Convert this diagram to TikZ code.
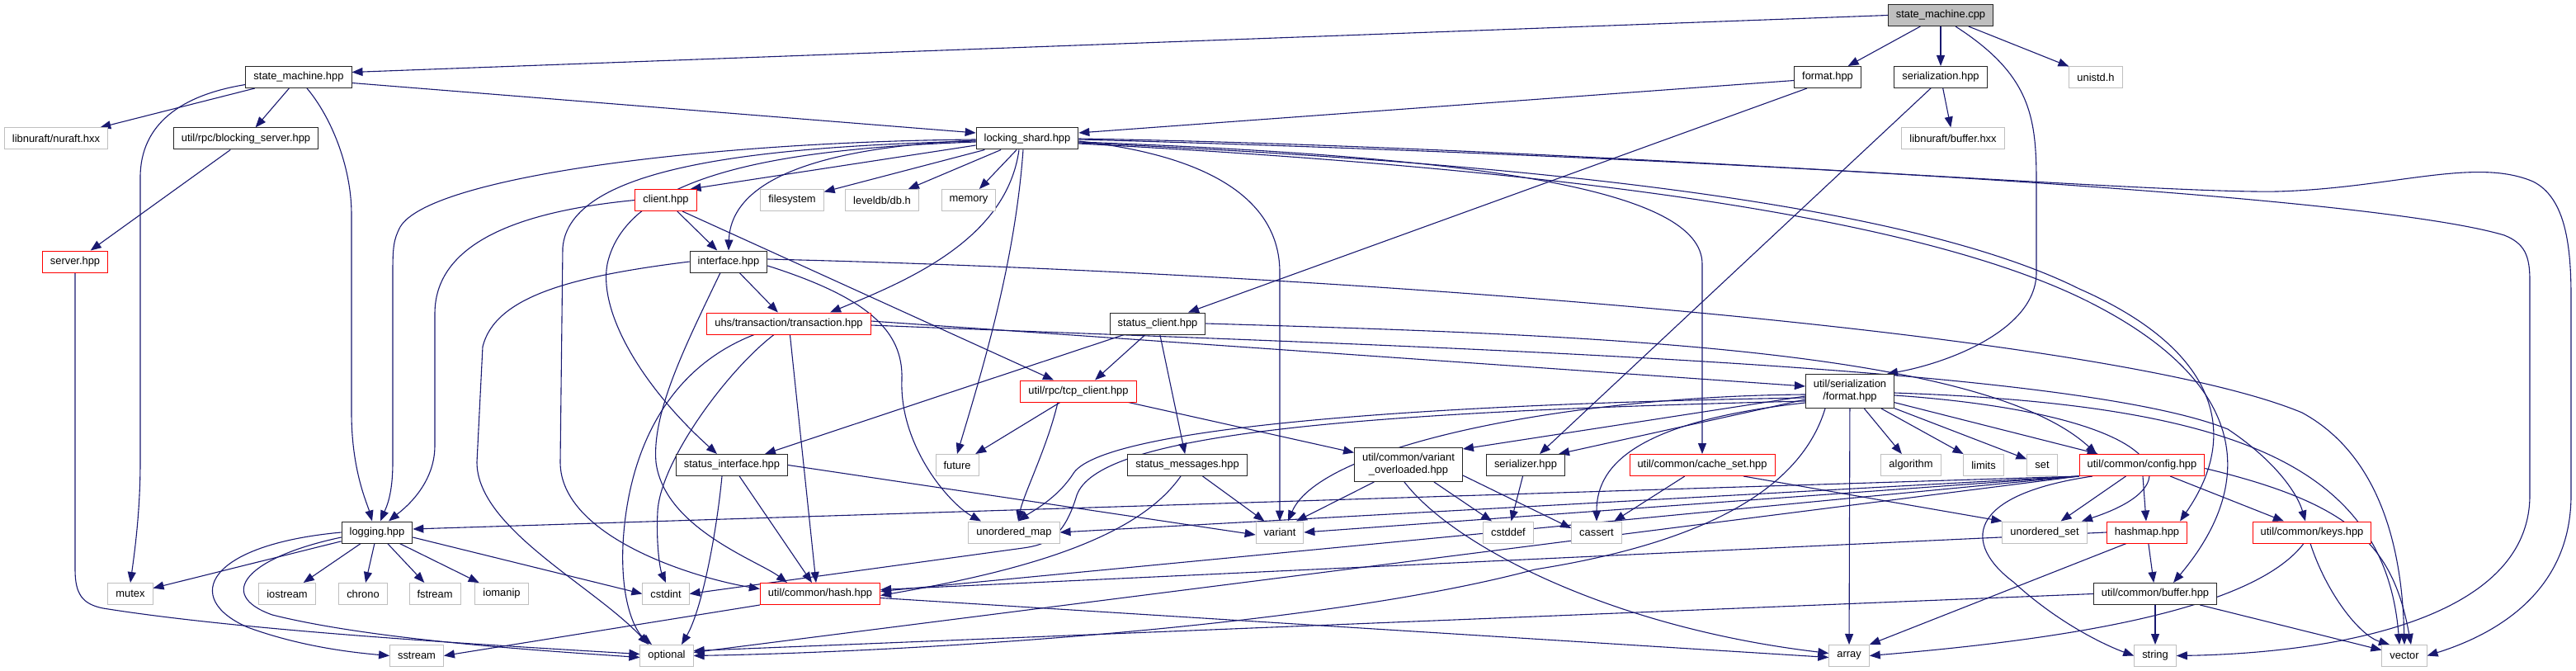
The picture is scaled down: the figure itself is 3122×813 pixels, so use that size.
\documentclass[tikz,border=0pt]{standalone}
\usepackage{fontspec}
\setmainfont{Liberation Sans}
\usetikzlibrary{arrows.meta}
\definecolor{edgecol}{HTML}{191970}
\definecolor{graybd}{HTML}{BFBFBF}
\definecolor{cppfill}{HTML}{BFBFBF}
\newcommand\gnf{\fontsize{12.9}{14.7}\selectfont}
\pgfdeclarelayer{bg}
\pgfsetlayers{bg,main}
\begin{document}
\begin{tikzpicture}[x=1pt,y=-1pt,
 nd/.style={rectangle, inner xsep=9.5pt, inner ysep=0pt, minimum height=26pt, font=\gnf, line width=1pt, fill=white},
 blk/.style={nd, draw=black!85},
 gry/.style={nd, draw=graybd},
 rnd/.style={nd, draw=red},
 two/.style={minimum height=41pt, align=center},
 e/.style={draw=edgecol, line width=1.1pt, -{Triangle[length=13pt,width=10pt]}}
]
\useasboundingbox (0,0) rectangle (3122,813);
% rank 0
\node[blk, fill=cppfill] (cpp) at (2352,18.5) {state\_machine.cpp};
% rank 1
\node[blk] (smh) at (362,93.5) {state\_machine.hpp};
\node[blk] (fmt) at (2215,93.5) {format.hpp};
\node[blk] (ser) at (2352,93.5) {serialization.hpp};
\node[gry] (unistd) at (2540,93.5) {unistd.h};
% rank 2
\node[gry] (nuraft) at (68,168) {libnuraft/nuraft.hxx};
\node[blk] (blocking) at (298,168) {util/rpc/blocking\_server.hpp};
\node[blk] (ls) at (1245,168) {locking\_shard.hpp};
\node[gry] (bufhxx) at (2367,168) {libnuraft/buffer.hxx};
% rank 3
\node[rnd] (client) at (807,242.5) {client.hpp};
\node[gry] (filesystem) at (960,242.5) {filesystem};
\node[gry] (leveldb) at (1069,242.5) {leveldb/db.h};
\node[gry] (memory) at (1174,242.5) {memory};
% rank 4
\node[rnd] (server) at (91,317) {server.hpp};
\node[blk] (interface) at (883,317) {interface.hpp};
% rank 5
\node[rnd] (transaction) at (956,392) {uhs/transaction/transaction.hpp};
\node[blk] (sclient) at (1403,392) {status\_client.hpp};
% rank 6
\node[rnd] (tcp) at (1307,474) {util/rpc/tcp\_client.hpp};
\node[blk, two] (usf) at (2242,474) {util/serialization\\/format.hpp};
% rank 7
\node[blk] (sinterface) at (887,563.5) {status\_interface.hpp};
\node[gry] (future) at (1160,563.5) {future};
\node[blk] (smessages) at (1439,563.5) {status\_messages.hpp};
\node[blk, two] (vover) at (1707,563) {util/common/variant\\\_overloaded.hpp};
\node[blk] (serializer) at (1849,563.5) {serializer.hpp};
\node[rnd] (cacheset) at (2063,563.5) {util/common/cache\_set.hpp};
\node[gry] (algorithm) at (2316,563.5) {algorithm};
\node[gry] (limits) at (2404,563.5) {limits};
\node[gry] (nset) at (2475,563.5) {set};
\node[rnd] (config) at (2596,563.5) {util/common/config.hpp};
% rank 8
\node[blk] (logging) at (457,645) {logging.hpp};
\node[gry] (umap) at (1229,645) {unordered\_map};
\node[gry] (variant) at (1551,645) {variant};
\node[gry] (cstddef) at (1828,645) {cstddef};
\node[gry] (cassert) at (1935,645) {cassert};
\node[gry] (uset) at (2478,645) {unordered\_set};
\node[rnd] (hashmap) at (2602,645) {hashmap.hpp};
\node[rnd] (keys) at (2802,645) {util/common/keys.hpp};
% rank 9
\node[gry] (mutex) at (158,719.5) {mutex};
\node[gry] (iostream) at (348,719.5) {iostream};
\node[gry] (chrono) at (440,719.5) {chrono};
\node[gry] (fstream) at (527,719.5) {fstream};
\node[gry] (iomanip) at (608,719.5) {iomanip};
\node[gry] (cstdint) at (807,719.5) {cstdint};
\node[rnd] (hash) at (994,719.5) {util/common/hash.hpp};
\node[blk] (cbuffer) at (2612,719.5) {util/common/buffer.hpp};
% rank 10
\node[gry] (sstream) at (505,794.5) {sstream};
\node[gry] (optional) at (808,794.5) {optional};
\node[gry] (narray) at (2241,794.5) {array};
\node[gry] (nstring) at (2612,794.5) {string};
\node[gry] (nvector) at (2914,794.5) {vector};

\begin{pgfonlayer}{bg}
% state_machine.cpp
\draw[e] (cpp.west) -- ([yshift=6pt]smh.east);
\draw[e] (cpp) -- (fmt);
\draw[e] (cpp) -- (ser);
\draw[e] (cpp) -- (unistd);
\draw[e] ([xshift=18pt]cpp.south) .. controls (2460,90) and (2468,140) .. (2468,220) -- (2468,330) .. controls (2468,400) and (2360,440) .. ([xshift=45pt]usf.north);
% state_machine.hpp
\draw[e] (smh) -- (nuraft);
\draw[e] (smh) -- (blocking);
\draw[e] ([yshift=-9pt]smh.west) .. controls (220,115) and (170,150) .. (170,215) -- (170,560) .. controls (170,620) and (163,670) .. (mutex.north);
\draw[e] ([xshift=10pt]smh.south) .. controls (400,140) and (426,200) .. (426,260) -- (426,500) .. controls (426,570) and (445,610) .. ([xshift=-6pt]logging.north);
\draw[e] ([yshift=-7pt]smh.east) -- ([yshift=7pt]ls.west);
% format.hpp
\draw[e] ([yshift=-4pt]fmt.west) -- ([yshift=7pt]ls.east);
\draw[e] ([xshift=-25pt]fmt.south) -- ([xshift=37pt]sclient.north);
% serialization.hpp
\draw[e] (ser) -- (bufhxx);
\draw[e] ([xshift=-12pt]ser.south) -- ([xshift=17pt]serializer.north);
% blocking server
\draw[e] (blocking) -- (server);
\draw[e] (server.south) -- (91,690) .. controls (91,720) and (100,732) .. (125,737) .. controls (300,765) and (600,782) .. ([yshift=2pt]optional.west);
% locking_shard.hpp
\draw[e] ([yshift=-8pt]ls.west) -- ([xshift=-8pt]client.north east);
\draw[e] (ls) -- (filesystem);
\draw[e] (ls) -- (leveldb);
\draw[e] (ls) -- (memory);
\draw[e] ([yshift=-2pt]ls.west) .. controls (1000,178) and (886,215) .. (interface.north);
\draw[e] ([yshift=-1pt]ls.west) .. controls (850,172) and (520,215) .. (485,275) .. controls (477,290) and (476,300) .. (476,330) -- (476,560) .. controls (476,600) and (468,615) .. ([xshift=4pt]logging.north);
\draw[e] ([yshift=-3pt]ls.west) .. controls (900,178) and (690,205) .. (682,300) -- (679,560) .. controls (679,650) and (840,700) .. ([yshift=6pt]hash.west);
\draw[e] ([yshift=-4pt]ls.west) .. controls (950,180) and (760,210) .. (736,320) .. controls (725,380) and (780,470) .. ([xshift=-18pt]sinterface.north);
\draw[e] ([xshift=-10pt]ls.south) .. controls (1220,290) and (1100,340) .. ([xshift=50pt]transaction.north);
\draw[e] ([xshift=-5pt]ls.south) .. controls (1230,320) and (1190,450) .. (future.north);
\draw[e] ([yshift=-3pt]ls.east) .. controls (1480,190) and (1551,250) .. (1551,330) -- (variant.north);
\draw[e] ([yshift=-4pt]ls.east) .. controls (1800,190) and (2063,230) .. (2063,320) -- (cacheset.north);
\draw[e] ([yshift=-1pt]ls.east) .. controls (1900,185) and (2850,230) .. (3035,285) .. controls (3060,295) and (3066,310) .. (3066,340) -- (3066,600) .. controls (3066,760) and (2800,792) .. (nstring.east);
\draw[e] (ls.east) .. controls (1900,178) and (2600,235) .. (2760,232) .. controls (2900,228) and (3000,190) .. (3070,220) .. controls (3110,240) and (3116,300) .. (3116,360) -- (3116,600) .. controls (3116,720) and (3020,770) .. (nvector.east);
\draw[e] ([yshift=-5pt]ls.east) .. controls (1800,195) and (2300,240) .. (2520,350) .. controls (2680,420) and (2720,520) .. ([xshift=40pt]hashmap.north);
\draw[e] ([yshift=-6pt]ls.east) .. controls (1800,200) and (2300,250) .. (2530,365) .. controls (2720,460) and (2740,580) .. ([xshift=22pt]cbuffer.north);
% client.hpp
\draw[e] (client) -- (interface);
\draw[e] (client.west) .. controls (640,255) and (527,290) .. (527,380) -- (527,540) .. controls (527,590) and (485,620) .. ([xshift=14pt]logging.north);
\draw[e] ([xshift=20pt]client.south) -- ([xshift=-30pt]tcp.north);
% interface.hpp
\draw[e] (interface) -- (transaction);
\draw[e] (interface.west) .. controls (690,335) and (600,360) .. (585,420) -- (578,560) .. controls (578,640) and (720,710) .. ([xshift=-22pt]optional.north);
\draw[e] ([xshift=-10pt]interface.south) .. controls (830,420) and (790,500) .. (795,560) .. controls (805,640) and (920,680) .. ([xshift=-40pt]hash.north);
\draw[e] ([yshift=-5pt]interface.east) .. controls (1050,360) and (1095,400) .. (1093,460) .. controls (1090,540) and (1150,610) .. ([xshift=-40pt]umap.north);
\draw[e] ([yshift=3pt]interface.east) .. controls (1600,330) and (2550,400) .. (2790,500) .. controls (2900,560) and (2912,700) .. (nvector.north);
% transaction.hpp
\draw[e] ([xshift=-18pt]transaction.south) .. controls (880,450) and (800,560) .. (797,620) .. controls (795,660) and (800,690) .. (cstdint.north);
\draw[e] ([xshift=-42pt]transaction.south) .. controls (800,450) and (760,560) .. (755,660) .. controls (752,730) and (770,765) .. ([xshift=-18pt]optional.north);
\draw[e] (transaction) -- ([xshift=-5pt]hash.north);
\draw[e] ([yshift=3pt]transaction.east) -- ([yshift=6pt]usf.west);
\draw[e] ([yshift=-2pt]transaction.east) .. controls (1700,420) and (2500,440) .. (2700,520) .. controls (2760,560) and (2785,600) .. ([xshift=-8pt]keys.north);
% status_client.hpp
\draw[e] (sclient) -- ([xshift=40pt]sinterface.north);
\draw[e] (sclient) -- (smessages);
\draw[e] (sclient) -- ([xshift=20pt]tcp.north);
\draw[e] (sclient.east) .. controls (1900,405) and (2400,420) .. ([xshift=-55pt]config.north);
% status_interface.hpp
\draw[e] (sinterface) -- ([xshift=-10pt]hash.north);
\draw[e] ([xshift=-12pt]sinterface.south) .. controls (868,650) and (850,740) .. ([xshift=18pt]optional.north);
\draw[e] (sinterface.east) -- ([yshift=-3pt]variant.west);
% status_messages.hpp
\draw[e] (smessages) -- (variant);
\draw[e] ([xshift=-8pt]smessages.south) .. controls (1380,650) and (1250,690) .. ([yshift=-2pt]hash.east);
% tcp_client.hpp
\draw[e] (tcp) -- (future);
\draw[e] ([xshift=-25pt]tcp.south) .. controls (1270,540) and (1240,600) .. ([xshift=5pt]umap.north);
\draw[e] (tcp) -- (vover);
% util/serialization/format.hpp
\draw[e] ([yshift=-6pt]usf.west) -- ([yshift=-2pt]vover.north east);
\draw[e] ([yshift=-10pt]usf.west) -- ([xshift=40pt]serializer.north);
\draw[e] ([yshift=-14pt]usf.west) .. controls (1990,510) and (1935,560) .. (cassert.north);
\draw[e] (usf) -- (narray);
\draw[e] (usf) -- (algorithm);
\draw[e] (usf) -- (limits);
\draw[e] (usf) -- (nset);
\draw[e] (usf) -- (config);
\draw[e] ([yshift=-8pt]usf.west) .. controls (1700,490) and (1330,520) .. (1300,575) .. controls (1280,605) and (1250,620) .. ([xshift=5pt]umap.north);
\draw[e] ([yshift=-12pt]usf.west) .. controls (1600,500) and (1330,530) .. (1305,600) .. controls (1290,650) and (1270,660) .. (1240,664) -- (cstdint.east);
\draw[e] ([yshift=-4pt]usf.west) .. controls (1900,480) and (1600,540) .. ([xshift=10pt]variant.north);
\draw[e] ([yshift=-5pt]usf.east) .. controls (2600,500) and (2680,580) .. ([xshift=45pt]uset.north);
\draw[e] ([yshift=-2pt]usf.east) .. controls (2700,490) and (2890,560) .. ([xshift=-6pt]nvector.north);
\draw[e] ([xshift=-30pt]usf.south) .. controls (2180,600) and (2050,660) .. (1860,690) .. controls (1600,760) and (1100,790) .. (optional.east);
% config.hpp
\draw[e] (config.south west) -- ([yshift=4pt]logging.east);
\draw[e] (config.south west) -- (umap.east);
\draw[e] (config.south west) -- (variant.east);
\draw[e] (config.south west) -- ([yshift=3pt]hash.east);
\draw[e] (config.south west) -- ([yshift=4pt]optional.east);
\draw[e] (config) -- (uset);
\draw[e] (config) -- (hashmap);
\draw[e] (config) -- (keys);
\draw[e] ([yshift=-4pt]config.east) .. controls (2850,610) and (2900,660) .. ([xshift=8pt]nvector.north);
\draw[e] ([xshift=-60pt]config.south) .. controls (2380,600) and (2380,660) .. (2440,705) .. controls (2500,760) and (2560,785) .. (nstring.west);
% hash.hpp
\draw[e] (hash.south west) -- (sstream.east);
\draw[e] ([yshift=-5pt]hash.east) -- ([yshift=-2pt]narray.west);
% logging.hpp
\draw[e] (logging) -- (mutex);
\draw[e] (logging) -- (iostream);
\draw[e] (logging) -- (chrono);
\draw[e] (logging) -- (fstream);
\draw[e] (logging) -- (iomanip);
\draw[e] (logging.west) .. controls (250,660) and (220,725) .. (300,760) .. controls (360,782) and (420,790) .. (sstream.west);
\draw[e] ([yshift=-6pt]logging.west) .. controls (300,675) and (260,720) .. (330,745) .. controls (450,775) and (650,788) .. ([yshift=-2pt]optional.west);
\draw[e] ([yshift=-6pt]logging.east) -- (cstdint.west);
% cache_set.hpp
\draw[e] (cacheset) -- (cassert);
\draw[e] ([xshift=50pt]cacheset.south) -- (uset.north west);
% variant_overloaded.hpp
\draw[e] (vover) -- ([xshift=20pt]variant.north);
\draw[e] (vover) -- (cstddef);
\draw[e] ([yshift=8pt]vover.south east) -- ([yshift=5pt]cassert.west);
\draw[e] ([xshift=-5pt]vover.south) .. controls (1760,660) and (1950,760) .. ([yshift=3pt]narray.west);
% serializer.hpp
\draw[e] (serializer) -- (cstddef);
% hashmap.hpp
\draw[e] (hashmap.west) -- ([yshift=5pt]hash.east);
\draw[e] (hashmap) -- (cbuffer);
\draw[e] ([xshift=-25pt]hashmap.south) -- (narray.north east);
% keys.hpp
\draw[e] ([xshift=-10pt]keys.south) .. controls (2730,740) and (2500,775) .. (narray.east);
\draw[e] ([xshift=-2pt]keys.south) .. controls (2820,720) and (2860,770) .. ([xshift=-18pt]nvector.north);
% buffer.hpp
\draw[e] (cbuffer.west) -- ([yshift=6pt]optional.east);
\draw[e] (cbuffer) -- (nstring);
\draw[e] (cbuffer) -- (nvector);
\end{pgfonlayer}
\end{tikzpicture}
\end{document}
